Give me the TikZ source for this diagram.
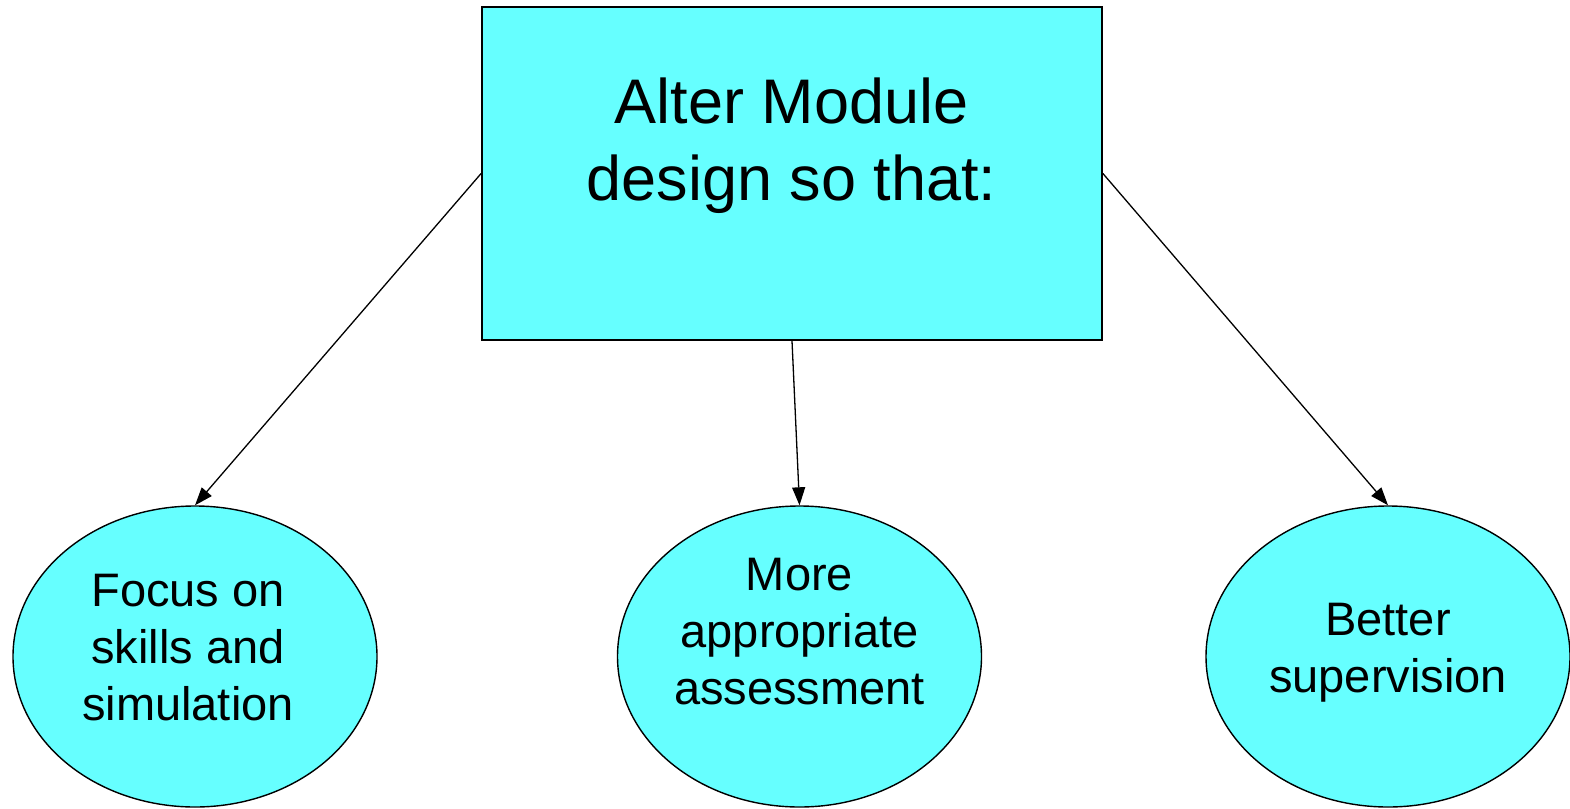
\documentclass[tikz,border=0pt]{standalone}
\usepackage{fontspec}
\setmainfont{Liberation Sans}
\usetikzlibrary{shapes.geometric,arrows.meta}
\definecolor{boxcyan}{HTML}{66FFFF}
\tikzset{
  titlebox/.style={draw=black, line width=1.8pt, fill=boxcyan, rectangle, inner sep=0pt},
  bubble/.style={draw=black, line width=1.4pt, fill=boxcyan, ellipse, inner sep=0pt,
                 minimum width=364pt, minimum height=301pt},
  bubbletext/.style={anchor=north, inner sep=0pt, align=center,
                 font=\fontsize{47}{56.7}\selectfont},
  titletext/.style={anchor=north, inner sep=0pt, align=center,
                 font=\fontsize{63}{77}\selectfont},
  link/.style={line width=1.3pt, -{Triangle[length=18pt,width=13pt]}}
}
\begin{document}
\begin{tikzpicture}[x=1pt,y=-1pt]
\useasboundingbox (0,0) rectangle (1570,808);
% top box
\node[titlebox, minimum width=620pt, minimum height=333pt] (top) at (792,173.5) {};
\node[titletext] (toptext) at (791.5,78) {Alter Module\\design so that:};
% ellipses
\node[bubble] (left) at (195,656.5) {};
\node[bubble] (mid) at (799.5,656.5) {};
\node[bubble] (right) at (1388,656.5) {};
\node[bubbletext] (lefttext) at (188,574.3) {Focus on\\skills and\\simulation};
\node[bubbletext] (midtext) at (799.5,558.3) {More\\appropriate\\assessment};
\node[bubbletext] (righttext) at (1388,603.3) {Better\\supervision};
% connectors
\draw[link] (top.west) -- (left.north);
\draw[link] (top.south) -- (mid.north);
\draw[link] (top.east) -- (right.north);
\end{tikzpicture}
\end{document}
